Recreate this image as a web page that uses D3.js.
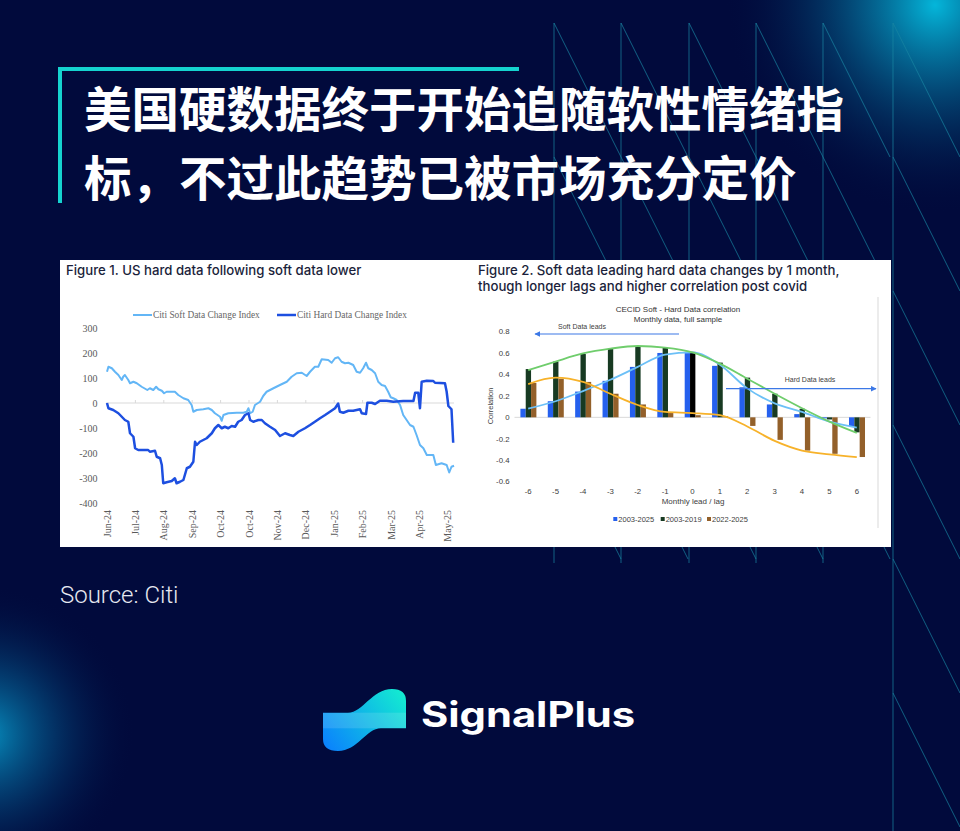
<!DOCTYPE html>
<html><head><meta charset="utf-8">
<script src="https://cdn.jsdelivr.net/npm/d3@7"></script>
<style>html,body{margin:0;padding:0;background:#010a3c;} svg{display:block}</style>
</head><body><svg id="c" width="960" height="831"></svg>
<script>
// ---------- Text ----------
const titleLines = ["美国硬数据终于开始追随软性情绪指", "标，不过此趋势已被市场充分定价"];
const sourceText = "Source: Citi";
const brandText = "SignalPlus";

// ---------- Figure 1 data ----------
const fig1Title = "Figure 1. US hard data following soft data lower";
const fig1SeriesNames = ["Citi Soft Data Change Index", "Citi Hard Data Change Index"];
const fig1MonthLabels = ["Jun-24","Jul-24","Aug-24","Sep-24","Oct-24","Oct-24","Nov-24","Dec-24","Jan-25","Feb-25","Mar-25","Apr-25","May-25"];
const fig1YTicks = [300,200,100,0,-100,-200,-300,-400];
// t = months since Jun-24 (axis position), v = index value
const softT = [0,0.05,0.17,0.28,0.40,0.52,0.57,0.63,0.75,0.81,0.93,1.05,1.22,1.42,1.51,1.63,1.73,1.81,1.93,2.01,2.10,2.39,2.51,2.69,2.86,2.98,3.04,3.16,3.39,3.57,3.69,3.80,3.98,4.04,4.10,4.27,4.57,4.80,4.92,4.98,5.04,5.13,5.21,5.39,5.50,5.62,5.86,6.09,6.33,6.50,6.68,6.86,7.03,7.15,7.32,7.44,7.56,7.79,7.91,8.03,8.14,8.26,8.38,8.50,8.67,8.79,8.91,9.02,9.12,9.20,9.32,9.44,9.55,9.67,9.79,9.90,9.99,10.08,10.20,10.32,10.43,10.55,10.67,10.79,10.90,11.02,11.14,11.26,11.49,11.58,11.78,11.96,12.05,12.13,12.22];
const softV = [125,145,139,125,112,92,105,112,92,79,85,79,65,52,59,52,65,55,49,39,45,45,32,19,12,-8,-35,-28,-25,-21,-28,-41,-55,-71,-48,-41,-39,-39,-35,-21,-41,-35,-8,5,28,45,59,72,85,105,119,121,108,125,145,145,175,172,161,179,183,165,159,161,152,125,121,139,161,139,132,119,85,72,68,45,23,19,12,-8,-48,-68,-88,-95,-128,-168,-181,-208,-208,-248,-241,-248,-278,-255,-251];
const hardT = [0,0.05,0.22,0.40,0.52,0.63,0.75,0.81,0.93,0.99,1.10,1.45,1.51,1.69,1.75,1.87,1.93,1.98,2.10,2.28,2.39,2.45,2.57,2.69,2.81,2.92,3.04,3.10,3.16,3.27,3.51,3.69,3.80,3.92,4.04,4.15,4.27,4.39,4.51,4.62,4.74,4.86,4.98,5.04,5.15,5.33,5.45,5.56,5.74,5.92,6.09,6.27,6.44,6.56,6.74,6.97,7.15,7.32,7.50,7.68,7.85,8.03,8.14,8.20,8.32,8.50,8.67,8.91,8.97,9.12,9.17,9.32,9.44,9.61,9.85,10.08,10.43,10.79,10.85,10.96,11.02,11.08,11.26,11.49,11.55,11.90,11.96,12.02,12.13,12.19];
const hardV = [0,-21,-28,-41,-55,-68,-75,-121,-135,-181,-188,-188,-195,-191,-215,-221,-248,-321,-317,-312,-301,-321,-315,-308,-261,-255,-235,-155,-168,-155,-141,-121,-101,-88,-101,-95,-101,-92,-95,-75,-68,-48,-41,-68,-75,-68,-68,-81,-95,-108,-132,-121,-128,-132,-115,-101,-88,-75,-61,-48,-35,-21,-2,-35,-39,-31,-31,-25,-41,-44,1,1,-4,9,9,5,8,8,41,41,-21,85,89,88,81,79,45,-12,-25,-159];

// ---------- Figure 2 data ----------
const fig2TitleLines = ["Figure 2. Soft data leading hard data changes by 1 month,", "though longer lags and higher correlation post covid"];
const fig2ChartTitle = ["CECID Soft - Hard Data correlation", "Monthly data, full sample"];
const fig2Categories = [-6,-5,-4,-3,-2,-1,0,1,2,3,4,5,6];
const fig2SeriesNames = ["2003-2025","2003-2019","2022-2025"];
const fig2YTicks = [0.8,0.6,0.4,0.2,0,-0.2,-0.4,-0.6];
const corr2003_2025 = [0.08,0.15,0.24,0.34,0.47,0.60,0.61,0.48,0.28,0.12,0.03,-0.01,-0.09];
const corr2003_2019 = [0.45,0.52,0.59,0.64,0.66,0.65,0.61,0.51,0.37,0.22,0.08,-0.02,-0.14];
const corr2022_2025 = [0.32,0.36,0.33,0.22,0.12,0.04,0.02,0.01,-0.08,-0.21,-0.31,-0.34,-0.37];
const trend2003_2025 = [0.08,0.15,0.245,0.35,0.47,0.585,0.605,0.49,0.27,0.13,0.05,-0.04,-0.095];
const trend2003_2019 = [0.44,0.52,0.595,0.64,0.665,0.65,0.605,0.50,0.36,0.22,0.085,-0.04,-0.145];
const trend2022_2025 = [0.31,0.37,0.33,0.22,0.115,0.05,0.04,0.02,-0.085,-0.22,-0.31,-0.345,-0.37];
const fig2AxisTitle = "Monthly lead / lag";
const fig2YTitle = "Correlation";
const arrowLabels = ["Soft Data leads", "Hard Data leads"];

// ---------- Drawing ----------
const svg = d3.select("#c");
const defs = svg.append("defs");

// background
svg.append("rect").attr("width",960).attr("height",831).attr("fill","#010a3c");
const g1 = defs.append("radialGradient").attr("id","glowTR").attr("gradientUnits","userSpaceOnUse")
  .attr("cx",935).attr("cy",5).attr("r",210);
g1.append("stop").attr("offset",0).attr("stop-color","#04b6da").attr("stop-opacity",1);
g1.append("stop").attr("offset",0.35).attr("stop-color","#0583ad").attr("stop-opacity",0.62);
g1.append("stop").attr("offset",1).attr("stop-color","#010a3c").attr("stop-opacity",0);
svg.append("rect").attr("width",960).attr("height",831).attr("fill","url(#glowTR)");
const g2 = defs.append("radialGradient").attr("id","glowL").attr("gradientUnits","userSpaceOnUse")
  .attr("cx",-15).attr("cy",735).attr("r",150);
g2.append("stop").attr("offset",0).attr("stop-color","#0797c8").attr("stop-opacity",0.95);
g2.append("stop").attr("offset",0.45).attr("stop-color","#055e92").attr("stop-opacity",0.5);
g2.append("stop").attr("offset",1).attr("stop-color","#010a3c").attr("stop-opacity",0);
svg.append("rect").attr("width",960).attr("height",831).attr("fill","url(#glowL)");

// decorative zigzag lines
const deco = svg.append("g").attr("stroke","#1a86a3").attr("stroke-width",1).attr("stroke-opacity",0.7).attr("fill","none");
const vx = [554,621,689,756,823,893];
vx.forEach((x,i)=>{
  const last = i===vx.length-1;
  const yEnd = last ? 831 : 563;
  deco.append("line").attr("x1",x).attr("x2",x).attr("y1",23).attr("y2",yEnd);
  for(let y=23; y<yEnd-10; y+=134){
    deco.append("line").attr("x1",x).attr("y1",y).attr("x2",x+67).attr("y2",y+134);
  }
});

// title block
svg.append("path").attr("d","M60,203 L60,69 L519,69").attr("fill","none").attr("stroke","#15d3cf").attr("stroke-width",4);
svg.append("g").selectAll("text").data(titleLines).join("text")
  .attr("x",84).attr("y",(d,i)=>127+i*69)
  .attr("fill","#ffffff").attr("font-family","'Noto Sans CJK SC'").attr("font-weight",700)
  .attr("font-size",47.5).text(d=>d);

// white panel
svg.append("rect").attr("x",60).attr("y",260).attr("width",831).attr("height",287).attr("fill","#ffffff");

// ===== Figure 1 =====
const f1 = svg.append("g");
f1.append("text").attr("x",66).attr("y",275).attr("font-family","Inter").attr("font-weight",500)
  .attr("font-size",13.2).attr("fill","#1b1f3b").text(fig1Title);
const x1 = d3.scaleLinear().domain([0,12]).range([107,447.8]);
const y1 = d3.scaleLinear().domain([-400,300]).range([503,328]);
// y labels
f1.append("g").selectAll("text").data(fig1YTicks).join("text")
  .attr("x",97.5).attr("y",d=>y1(d)).attr("dy","0.35em").attr("text-anchor","end")
  .attr("font-family","'Liberation Serif'").attr("font-size",10).attr("fill","#595959").text(d=>d);
// zero axis with ticks
f1.append("line").attr("x1",106).attr("x2",454).attr("y1",y1(0)).attr("y2",y1(0)).attr("stroke","#d9d9d9").attr("stroke-width",1);
f1.append("g").selectAll("line").data(d3.range(1,13)).join("line")
  .attr("x1",d=>x1(d)).attr("x2",d=>x1(d)).attr("y1",y1(0)).attr("y2",y1(0)-3).attr("stroke","#d9d9d9");
// x labels rotated
f1.append("g").selectAll("text").data(fig1MonthLabels).join("text")
  .attr("transform",(d,i)=>`translate(${x1(i)},510) rotate(-90)`).attr("dy","0.35em")
  .attr("text-anchor","end").attr("font-family","'Liberation Serif'").attr("font-size",10).attr("fill","#595959").text(d=>d);
// lines
const softData = softT.map((t,i)=>[t,softV[i]]);
const hardData = hardT.map((t,i)=>[t,hardV[i]]);
const ln1 = d3.line().x(d=>x1(d[0])).y(d=>y1(d[1]));
f1.append("path").attr("d",ln1(softData)).attr("fill","none").attr("stroke","#63b6f6").attr("stroke-width",2).attr("stroke-linejoin","round");
f1.append("path").attr("d",ln1(hardData)).attr("fill","none").attr("stroke","#1d4fe0").attr("stroke-width",2.5).attr("stroke-linejoin","round");
// legend
const leg1 = [{x:133,c:"#63b6f6",w:2},{x:277,c:"#1d4fe0",w:2.5}];
leg1.forEach((l,i)=>{
  f1.append("line").attr("x1",l.x).attr("x2",l.x+19).attr("y1",315).attr("y2",315).attr("stroke",l.c).attr("stroke-width",l.w);
  f1.append("text").attr("x",l.x+20).attr("y",315).attr("dy","0.35em").attr("font-family","'Liberation Serif'")
    .attr("font-size",9.4).attr("fill","#666").text(fig1SeriesNames[i]);
});

// ===== Figure 2 =====
const f2 = svg.append("g");
f2.append("g").selectAll("text").data(fig2TitleLines).join("text")
  .attr("x",478).attr("y",(d,i)=>275+i*16).attr("font-family","Inter").attr("font-weight",500)
  .attr("font-size",13.2).attr("fill","#1b1f3b").text(d=>d);
f2.append("line").attr("x1",878).attr("x2",878).attr("y1",297).attr("y2",528).attr("stroke","#d9d9d9");
f2.append("g").selectAll("text").data(fig2ChartTitle).join("text")
  .attr("x",678).attr("y",(d,i)=>312+i*10).attr("text-anchor","middle").attr("font-family","'Liberation Sans'")
  .attr("font-size",8).attr("fill","#333").text(d=>d);
const x2 = d3.scaleBand().domain(fig2Categories).range([514.5,870.5]);
const y2 = d3.scaleLinear().domain([-0.6,0.8]).range([481.7,331.5]);
const inner = d3.scaleBand().domain(fig2SeriesNames).range([-7.8,8.2]);
f2.append("g").selectAll("text").data(fig2YTicks).join("text")
  .attr("x",509.5).attr("y",d=>y2(d)).attr("dy","0.35em").attr("text-anchor","end")
  .attr("font-family","'Liberation Sans'").attr("font-size",7.8).attr("fill","#404040").text(d=>d);
f2.append("text").attr("transform",`translate(490,406) rotate(-90)`).attr("dy","0.35em").attr("text-anchor","middle")
  .attr("font-family","'Liberation Sans'").attr("font-size",7.5).attr("fill","#404040").text(fig2YTitle);
f2.append("line").attr("x1",514.5).attr("x2",870.5).attr("y1",y2(0)).attr("y2",y2(0)).attr("stroke","#d9d9d9");
f2.append("g").selectAll("text").data(fig2Categories).join("text")
  .attr("x",d=>x2(d)+x2.bandwidth()/2).attr("y",491).attr("dy","0.35em").attr("text-anchor","middle")
  .attr("font-family","'Liberation Sans'").attr("font-size",7.8).attr("fill","#404040").text(d=>d);
f2.append("text").attr("x",693).attr("y",501).attr("dy","0.35em").attr("text-anchor","middle")
  .attr("font-family","'Liberation Sans'").attr("font-size",8).attr("fill","#404040").text(fig2AxisTitle);
// bars
const barSeries = [corr2003_2025, corr2003_2019, corr2022_2025];
const barColors = ["#2560ee","#173a22","#93602a"];
barSeries.forEach((vals,si)=>{
  f2.append("g").selectAll("rect").data(vals).join("rect")
    .attr("x",(d,i)=>x2(fig2Categories[i])+x2.bandwidth()/2+inner(fig2SeriesNames[si]))
    .attr("width",inner.bandwidth())
    .attr("y",d=>Math.min(y2(d),y2(0))).attr("height",d=>Math.abs(y2(d)-y2(0)))
    .attr("fill",(d,i)=> (si===1 && fig2Categories[i]===0) ? "#000000" : barColors[si]);
});
// trend lines
const trends = [trend2003_2025, trend2003_2019, trend2022_2025];
const trendColors = ["#6cc0f7","#6fcd6c","#f7b22a"];
const ln2 = d3.line().x((d,i)=>x2(fig2Categories[i])+x2.bandwidth()/2).y(d=>y2(d)).curve(d3.curveMonotoneX);
trends.forEach((vals,si)=>{
  f2.append("path").attr("d",ln2(vals)).attr("fill","none").attr("stroke",trendColors[si]).attr("stroke-width",1.8);
});
// arrows
defs.append("marker").attr("id","ah").attr("viewBox","0 0 10 10").attr("refX",9).attr("refY",5)
  .attr("markerWidth",5).attr("markerHeight",5).attr("orient","auto-start-reverse")
  .append("path").attr("d","M0,0 L10,5 L0,10 Z").attr("fill","#3c78e6");
f2.append("line").attr("x1",679).attr("x2",535).attr("y1",334).attr("y2",334).attr("stroke","#3c78e6").attr("stroke-width",1.2).attr("marker-end","url(#ah)");
f2.append("line").attr("x1",726).attr("x2",876).attr("y1",388.7).attr("y2",388.7).attr("stroke","#3c78e6").attr("stroke-width",1.2).attr("marker-end","url(#ah)");
f2.append("text").attr("x",582).attr("y",327).attr("dy","0.35em").attr("text-anchor","middle").attr("font-family","'Liberation Sans'")
  .attr("font-size",7).attr("fill","#404040").text(arrowLabels[0]);
f2.append("text").attr("x",810).attr("y",380).attr("dy","0.35em").attr("text-anchor","middle").attr("font-family","'Liberation Sans'")
  .attr("font-size",7).attr("fill","#404040").text(arrowLabels[1]);
// legend
const legX = [613.3,660.7,707];
fig2SeriesNames.forEach((n,i)=>{
  f2.append("rect").attr("x",legX[i]).attr("y",517).attr("width",4).attr("height",4).attr("fill",barColors[i]);
  f2.append("text").attr("x",legX[i]+5).attr("y",519).attr("dy","0.35em").attr("font-family","'Liberation Sans'")
    .attr("font-size",7.5).attr("fill","#404040").text(n);
});

// source
svg.append("text").attr("x",60).attr("y",603).attr("font-family","Roboto").attr("font-weight",300)
  .attr("font-size",24).attr("fill","#e6e8f0").text(sourceText);

// logo
const lg = defs.append("linearGradient").attr("id","logoG").attr("gradientUnits","userSpaceOnUse")
  .attr("x1",323).attr("y1",751).attr("x2",406).attr("y2",689);
lg.append("stop").attr("offset",0).attr("stop-color","#0a7dff");
lg.append("stop").attr("offset",1).attr("stop-color","#14f0cf");
const logoPath = "M323,712.7 L348,712.7 C363,712.7 372,689 392,689 Q406,689 406,701 L406,728.3 L381,728.3 C366,728.3 358,751 338,751 Q323,751 323,739 Z";
defs.append("clipPath").attr("id","logoClip").append("path").attr("d",logoPath);
svg.append("path").attr("d",logoPath).attr("fill","url(#logoG)");
svg.append("rect").attr("x",323).attr("y",712.7).attr("width",83).attr("height",15.6).attr("fill","#ffffff").attr("fill-opacity",0.13).attr("clip-path","url(#logoClip)");
svg.append("text").attr("x",421).attr("y",727).attr("font-family","Inter").attr("font-weight",700)
  .attr("font-size",35).attr("fill","#ffffff").attr("textLength",214).attr("lengthAdjust","spacingAndGlyphs").text(brandText);
</script>
</body></html>
